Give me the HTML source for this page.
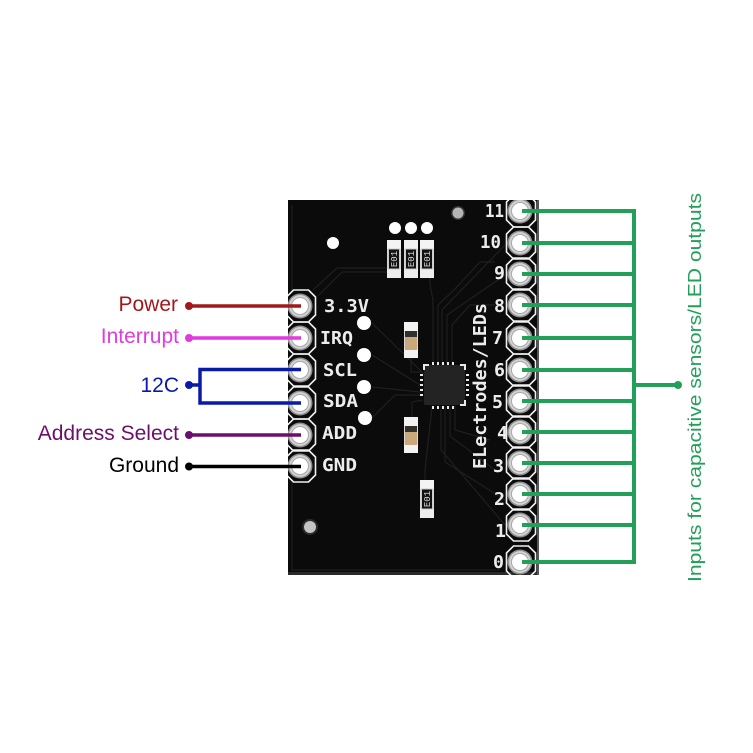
<!DOCTYPE html>
<html><head><meta charset="utf-8"><style>
html,body{margin:0;padding:0;background:#fff}
svg{display:block}
.l{font-family:"Liberation Sans",sans-serif;font-size:21px;text-anchor:end}
.s{font-family:"DejaVu Sans Mono","Liberation Mono",monospace;font-weight:bold;font-size:18px;fill:#ececec}
.r{font-family:"Liberation Mono",monospace;font-size:9px;fill:#ddd;text-anchor:middle}
</style></head><body>
<svg width="753" height="753" viewBox="0 0 753 753" xmlns="http://www.w3.org/2000/svg">
<defs>
<clipPath id="bd"><rect x="288" y="200" width="251" height="375"/></clipPath>
<g id="pad"><circle r="12.500" fill="#8f8f8f"/><circle r="11" fill="#d2d2d2"/><circle r="9" fill="#a8a8a8"/><circle r="8" fill="#fff"/></g>
<g id="res"><rect x="-7" y="-19" width="14" height="38" rx="1" fill="#d4d4d4"/><rect x="-7" y="-19" width="14" height="9" fill="#f4f4f4"/><rect x="-7" y="10" width="14" height="9" fill="#eee"/><rect x="-5.500" y="-10" width="11" height="20" fill="#111" stroke="#ccc" stroke-width="1"/><text class="r" transform="translate(3,0) rotate(-90)">E01</text></g>
<g id="led"><rect x="-7" y="-18" width="14" height="36" rx="1" fill="#d8d8d8"/><rect x="-7" y="-18" width="14" height="9" fill="#f2f2f2"/><rect x="-7" y="9" width="14" height="9" fill="#f2f2f2"/><rect x="-6" y="-9" width="12" height="6" fill="#33302c"/><rect x="-6" y="-3" width="12" height="13" fill="#c9a87c"/></g>
<polygon id="oct" points="-7.500,-16 7.500,-16 14.500,-9 14.500,9 7.500,16 -7.500,16 -14.500,9 -14.500,-9" fill="none" stroke="#f0f0f0" stroke-width="1.6"/>
</defs>
<rect width="753" height="753" fill="#fff"/>
<!-- board -->
<rect x="288" y="200" width="251" height="375" fill="#0b0b0b"/>
<rect x="288" y="572" width="251" height="3" fill="#2a2a2a"/>
<rect x="537" y="200" width="2" height="375" fill="#555"/>
<!-- traces -->
<g fill="none" stroke="#1f1f1f" stroke-width="1.2">
<path d="M292 205V290M292 480V570H500"/>
<path d="M313 290L337 268H388M318 296L342 272H388"/>
<path d="M372 323L425 375M372 355L420 385M372 387L420 392M372 418L395 395H422"/>
<path d="M433 365V300L430 285V272M438 365V305L454 290L480 262H495"/>
<path d="M442 365V310L505 245M447 365V315L505 275M452 365V325L470 305H495"/>
<path d="M432 407L425 470V482M441 406V450L505 525M445 406V462L505 500M450 406V436L495 470M455 406V430L490 440"/>
<path d="M423 400L412 402V418M411 358V372H423"/>
</g>
<!-- left silkscreen & pads -->
<g clip-path="url(#bd)">
<use href="#oct" x="301" y="306"/><use href="#oct" x="301" y="338"/><use href="#oct" x="301" y="370"/><use href="#oct" x="301" y="403"/><use href="#oct" x="301" y="435"/><use href="#oct" x="301" y="466"/>
<use href="#pad" x="300" y="306"/><use href="#pad" x="300" y="338"/><use href="#pad" x="300" y="370"/><use href="#pad" x="300" y="403"/><use href="#pad" x="300" y="435"/><use href="#pad" x="300" y="466"/>
</g>
<!-- right silkscreen & pads -->
<g clip-path="url(#bd)">
<use href="#oct" x="521" y="211"/><use href="#oct" x="521" y="243"/><use href="#oct" x="521" y="274"/><use href="#oct" x="521" y="305"/><use href="#oct" x="521" y="338"/><use href="#oct" x="521" y="370"/><use href="#oct" x="521" y="401"/><use href="#oct" x="521" y="432"/><use href="#oct" x="521" y="463"/><use href="#oct" x="521" y="494"/><use href="#oct" x="521" y="525"/><use href="#oct" x="521" y="562"/>
<use href="#pad" x="520" y="211"/><use href="#pad" x="520" y="243"/><use href="#pad" x="520" y="274"/><use href="#pad" x="520" y="305"/><use href="#pad" x="520" y="338"/><use href="#pad" x="520" y="370"/><use href="#pad" x="520" y="401"/><use href="#pad" x="520" y="432"/><use href="#pad" x="520" y="463"/><use href="#pad" x="520" y="494"/><use href="#pad" x="520" y="525"/><use href="#pad" x="520" y="562"/>
</g>
<!-- vias -->
<g fill="#fff">
<circle cx="333" cy="243" r="6"/><circle cx="395" cy="228" r="6"/><circle cx="411" cy="228" r="6"/><circle cx="427" cy="228" r="6"/>
<circle cx="364" cy="323" r="7"/><circle cx="364" cy="355" r="7"/><circle cx="364" cy="387" r="7"/><circle cx="365" cy="418" r="7"/>
</g>
<circle cx="458" cy="213" r="7" fill="#333"/><circle cx="458" cy="213" r="5.500" fill="#b5b5b5"/>
<circle cx="310" cy="527" r="8" fill="#2c2c2c"/><circle cx="310" cy="527" r="6" fill="#c4c4c4"/>
<!-- components -->
<use href="#res" x="394" y="259"/><use href="#res" x="411" y="259"/><use href="#res" x="427" y="259"/>
<use href="#led" x="411" y="340"/><use href="#led" x="411" y="435"/><use href="#res" x="427" y="499"/>
<!-- chip -->
<rect x="424" y="365" width="41" height="40" rx="1" fill="#232323"/>
<g fill="#e8e8e8">
<rect x="423" y="364" width="6" height="2"/><rect x="423" y="364" width="2" height="6"/>
<rect x="460" y="364" width="6" height="2"/><rect x="464" y="364" width="2" height="6"/>
<rect x="464" y="400" width="2" height="6"/><rect x="460" y="404" width="6" height="2"/>
<rect x="432" y="362" width="2" height="3"/><rect x="437" y="362" width="2" height="3"/><rect x="442" y="362" width="2" height="3"/><rect x="447" y="362" width="2" height="3"/><rect x="452" y="362" width="2" height="3"/>
<rect x="432" y="406" width="2" height="3"/><rect x="437" y="406" width="2" height="3"/><rect x="442" y="406" width="2" height="3"/><rect x="447" y="406" width="2" height="3"/><rect x="452" y="406" width="2" height="3"/>
<rect x="420" y="374" width="3" height="2"/><rect x="420" y="379" width="3" height="2"/><rect x="420" y="384" width="3" height="2"/><rect x="420" y="389" width="3" height="2"/><rect x="420" y="394" width="3" height="2"/>
<rect x="466" y="374" width="3" height="2"/><rect x="466" y="379" width="3" height="2"/><rect x="466" y="384" width="3" height="2"/><rect x="466" y="389" width="3" height="2"/><rect x="466" y="394" width="3" height="2"/>
</g>
<!-- silk labels -->
<g class="s">
<text x="324" y="312" textLength="45" lengthAdjust="spacingAndGlyphs">3.3V</text>
<text x="320" y="344" textLength="33" lengthAdjust="spacingAndGlyphs">IRQ</text>
<text x="323" y="376" textLength="34" lengthAdjust="spacingAndGlyphs">SCL</text>
<text x="323" y="407" textLength="35" lengthAdjust="spacingAndGlyphs">SDA</text>
<text x="322" y="439" textLength="35" lengthAdjust="spacingAndGlyphs">ADD</text>
<text x="322" y="471" textLength="35" lengthAdjust="spacingAndGlyphs">GND</text>
<text x="485" y="217" textLength="19" lengthAdjust="spacingAndGlyphs">11</text>
<text x="480" y="248" textLength="21" lengthAdjust="spacingAndGlyphs">10</text>
<text x="494" y="279" textLength="11" lengthAdjust="spacingAndGlyphs">9</text>
<text x="494" y="312" textLength="11" lengthAdjust="spacingAndGlyphs">8</text>
<text x="492" y="344" textLength="11" lengthAdjust="spacingAndGlyphs">7</text>
<text x="494" y="376" textLength="11" lengthAdjust="spacingAndGlyphs">6</text>
<text x="492" y="408" textLength="11" lengthAdjust="spacingAndGlyphs">5</text>
<text x="497" y="439" textLength="11" lengthAdjust="spacingAndGlyphs">4</text>
<text x="493" y="472" textLength="11" lengthAdjust="spacingAndGlyphs">3</text>
<text x="494" y="505" textLength="11" lengthAdjust="spacingAndGlyphs">2</text>
<text x="495" y="537" textLength="11" lengthAdjust="spacingAndGlyphs">1</text>
<text x="493" y="568" textLength="11" lengthAdjust="spacingAndGlyphs">0</text>
<text transform="translate(486,469) rotate(-90)" textLength="166" lengthAdjust="spacingAndGlyphs">ELectrodes/LEDs</text>
</g>
<!-- left connectors -->
<g fill="none" stroke-width="3.5">
<path d="M189 306H301" stroke="#a0191c"/>
<path d="M189 338H301" stroke="#e13ade"/>
<path d="M189 385H200" stroke="#0a1aa8"/>
<path d="M301 369.500H200V403H301" stroke="#0a1aa8"/>
<path d="M189 435H301" stroke="#6c0e6c"/>
<path d="M189 466.500H301" stroke="#000"/>
</g>
<circle cx="189" cy="306" r="4" fill="#a0191c"/><circle cx="189" cy="338" r="4" fill="#e13ade"/><circle cx="189" cy="385" r="4" fill="#0a1aa8"/><circle cx="189" cy="435" r="4" fill="#6c0e6c"/><circle cx="189" cy="466.500" r="4" fill="#000"/>
<g class="l">
<text x="178" y="311" fill="#a0191c">Power</text>
<text x="179" y="343" fill="#e13ade">Interrupt</text>
<text x="179" y="392" fill="#0a1aa8">12C</text>
<text x="179" y="440" fill="#6c0e6c">Address Select</text>
<text x="179" y="472" fill="#000">Ground</text>
</g>
<!-- right connectors -->
<g fill="none" stroke="#22a05a" stroke-width="4">
<path d="M522 211H634M522 243H634M522 274H634M522 305H634M522 338H634M522 370H634M522 401H634M522 432H634M522 463H634M522 494H634M522 525H634M522 562H634"/>
<path d="M634 209V564"/>
<path d="M634 385H678"/>
</g>
<circle cx="678" cy="385" r="4" fill="#22a05a"/>
<text transform="translate(701,582) rotate(-90)" font-family="Liberation Sans, sans-serif" font-size="18.500" fill="#22a05a" textLength="389" lengthAdjust="spacingAndGlyphs">Inputs for capacitive sensors/LED outputs</text>
</svg>
</body></html>
